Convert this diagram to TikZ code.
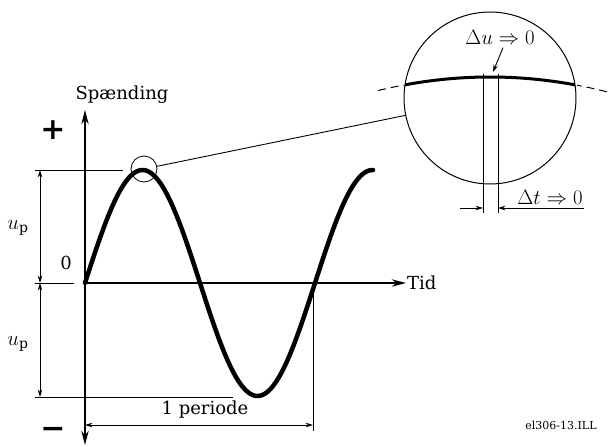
\documentclass[tikz,border=0pt]{standalone}
\usepackage{fontspec}
\setmainfont{DejaVu Serif}
\usepackage{tikz}
\usetikzlibrary{arrows.meta,positioning}

\begin{document}
\begin{tikzpicture}[x=1pt,y=-1pt,
  font=\fontsize{18}{21}\selectfont,
  mathlbl/.style={font=\fontsize{20}{24}\selectfont},
  sign/.style={font=\fontsize{30}{30}\selectfont\bfseries},
  ax/.style={line width=1.8pt,-{Stealth[length=5mm,width=2.6mm]}},
  dimarrow/.style={line width=0.9pt,{Stealth[length=2.6mm,width=1.6mm]}-{Stealth[length=2.6mm,width=1.6mm]}},
  pin/.style={line width=0.9pt,-{Stealth[length=2.6mm,width=1.6mm]}},
  ext/.style={line width=0.9pt},
  wave/.style={line width=4.5pt,line cap=round}]
\useasboundingbox (0,0) rectangle (608,447);
\coordinate (o) at (85,283);
\coordinate (ytop) at (85,110);
\coordinate (ybot) at (85,445);
% axes
\node[anchor=west,inner sep=1pt] (tid) at (406,283) {Tid};
\node (spn) at (122,95) {Spænding};
\draw[ax] (o) -- (tid.west);
\draw[line width=1.8pt,{Stealth[length=5mm,width=2.6mm]}-{Stealth[length=5mm,width=2.6mm]}] (ybot) -- (ytop);
\node[sign] (plus) at (53,130) {+};
\node[sign] (minus) at (53,433) {−};
\node (zero) at (66,263) {0};
% the wave
\draw[wave,domain=85:373,samples=150,smooth] plot (\x,{283-113*sin((\x-85)*1.565217)});
% amplitude
\coordinate (pk) at (40,170);
\coordinate (md) at (40,283);
\coordinate (tr) at (40,397);
\draw[ext] (35,170) -- (123,170);
\draw[ext] (35,283) -- (74,283);
\draw[ext] (35,397) -- (233,397);
\draw[dimarrow] (pk) -- (md);
\draw[dimarrow] (md) -- (tr);
\node[mathlbl] (up1) at (18,228) {$u_{\mathrm{p}}$};
\node[mathlbl] (up2) at (18,344) {$u_{\mathrm{p}}$};
% period
\coordinate (pe) at (313,425);
\coordinate (ps) at (85,425);
\draw[ext] (313,283) -- (313,431);
\draw[dimarrow] (ps) -- (pe);
\node (per) at (205,410) {1 periode};
% zoom
\node[circle,draw,inner sep=0pt,minimum size=26pt,line width=0.8pt] (spot) at (144,169) {};
\node[circle,draw,inner sep=0pt,minimum size=172pt,line width=1pt] (lens) at (490,98) {};
\draw[line width=0.9pt] (spot) -- (lens);
\begin{scope}
  \clip (lens.center) circle (86pt);
  \draw[line width=3pt,domain=400:581,samples=60,smooth] plot (\x,{77+0.00108*(\x-490)^2});
\end{scope}
\draw[line width=1pt,dash pattern=on 8pt off 5pt,domain=378:404] plot (\x,{77+0.00108*(\x-490)^2});
\draw[line width=1pt,dash pattern=on 8pt off 5pt,domain=607:577] plot (\x,{77+0.00108*(\x-490)^2});
\draw[ext] (483,74) -- (483,213);
\draw[ext] (498,74) -- (498,213);
\node[mathlbl] (du) at (500,37) {$\Delta u\Rightarrow 0$};
\coordinate (dutip) at (493,72);
\draw[pin] ([xshift=3pt]du.south) -- (dutip);
\node[mathlbl,anchor=south,inner sep=1pt] (dt) at (550,206) {$\Delta t\Rightarrow 0$};
\coordinate (dtl) at (483,208);
\coordinate (dtr) at (498,208);
\draw[pin] (460,208) -- (dtl);
\draw[pin] (dt.south east |- dtr) -- (dtr);
\node[font=\fontsize{11}{13}\selectfont] (tag) at (561,425) {el306-13.ILL};
\end{tikzpicture}
\end{document}
